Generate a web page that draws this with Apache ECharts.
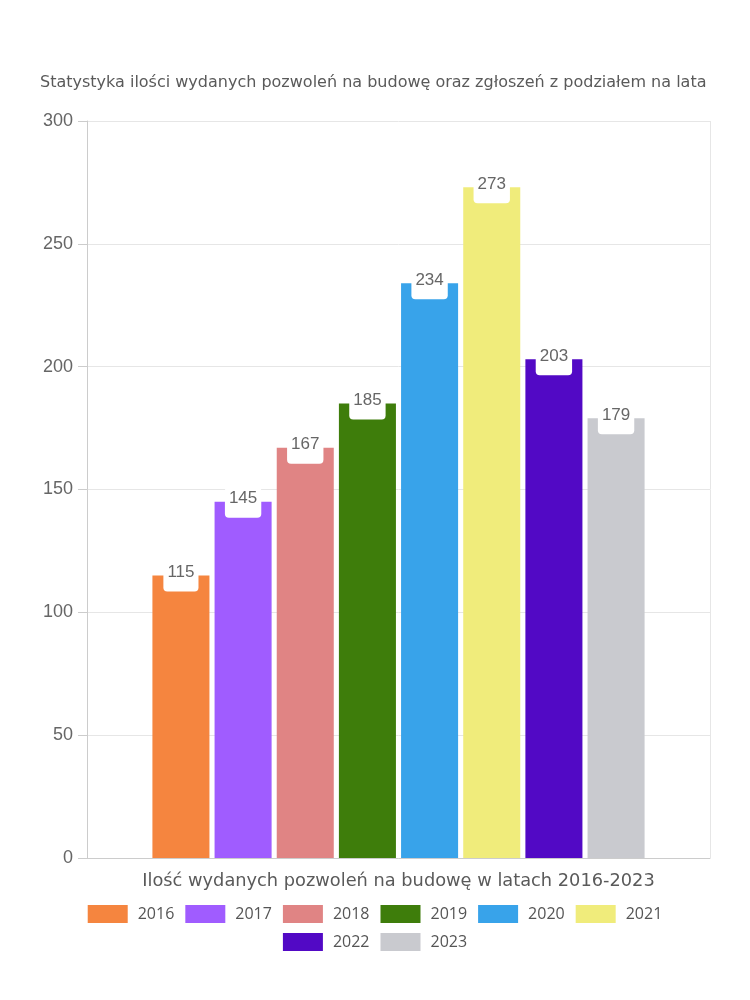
<!DOCTYPE html>
<html>
<head>
<meta charset="utf-8">
<script src="https://cdn.jsdelivr.net/npm/echarts@6/dist/echarts.min.js"></script>
<style>html,body{margin:0;padding:0;background:#fff}#c{width:750px;height:1000px}</style>
</head>
<body>
<div id="c"></div>
<script>
const categories = ['Ilość wydanych pozwoleń na budowę w latach 2016-2023'];
const years = ['2016','2017','2018','2019','2020','2021','2022','2023'];
const values = [115,145,167,185,234,273,203,179];
const colors = ['#f5853f','#a05cff','#e08484','#3e7d0b','#38a3ea','#f0ec7b','#5209c5','#c9cacf'];
const yTicks = {min:0, max:300, interval:50};

const roundFont = 'Open Sans';
const wideFont = 'DejaVu Sans';
const legendText = {fontFamily:roundFont,fontSize:16,color:'#555',padding:[0,0,0,5]};
const chart = echarts.init(document.getElementById('c'));
chart.setOption({
  animation:false,
  title:{text:'Statystyka ilości wydanych pozwoleń na budowę oraz zgłoszeń z podziałem na lata',
    left:35, top:70, textStyle:{fontFamily:wideFont,fontSize:16,fontWeight:'normal',color:'#5a5a5a'}},
  grid:{left:87,right:40,top:121,bottom:142},
  legend:[
    {top:900,left:'center',itemWidth:40,itemHeight:18,itemGap:11,icon:'rect',
     data:years.slice(0,6),textStyle:legendText},
    {top:928,left:'center',itemWidth:40,itemHeight:18,itemGap:11,icon:'rect',
     data:years.slice(6),textStyle:legendText}
  ],
  xAxis:{type:'category',data:categories,
    axisLine:{lineStyle:{color:'#ccc'}},
    axisTick:{length:9,lineStyle:{color:'#ccc'}},
    splitLine:{show:true,lineStyle:{color:'#e6e6e6'}},
    axisLabel:{fontFamily:wideFont,fontSize:17.8,color:'#5a5a5a',margin:14}},
  yAxis:{type:'value',min:yTicks.min,max:yTicks.max,interval:yTicks.interval,
    axisLine:{show:true,lineStyle:{color:'#ccc'}},
    axisTick:{show:true,length:9,lineStyle:{color:'#ccc'}},
    splitLine:{lineStyle:{color:'#e6e6e6'}},
    axisLabel:{fontFamily:'Liberation Sans',fontSize:18,color:'#666',margin:14}},
  series: years.map((y,i)=>({
    name:y,type:'bar',data:[values[i]],
    itemStyle:{color:colors[i]},
    barGap:'9%',barCategoryGap:'21%',
    label:{show:true,position:'top',distance:0,offset:[0,16],
      backgroundColor:'#fff',borderRadius:4,padding:[4,4,11,4],lineHeight:16,
      fontFamily:'Liberation Sans',fontSize:17,color:'#666'}
  }))
});
</script>
</body>
</html>
